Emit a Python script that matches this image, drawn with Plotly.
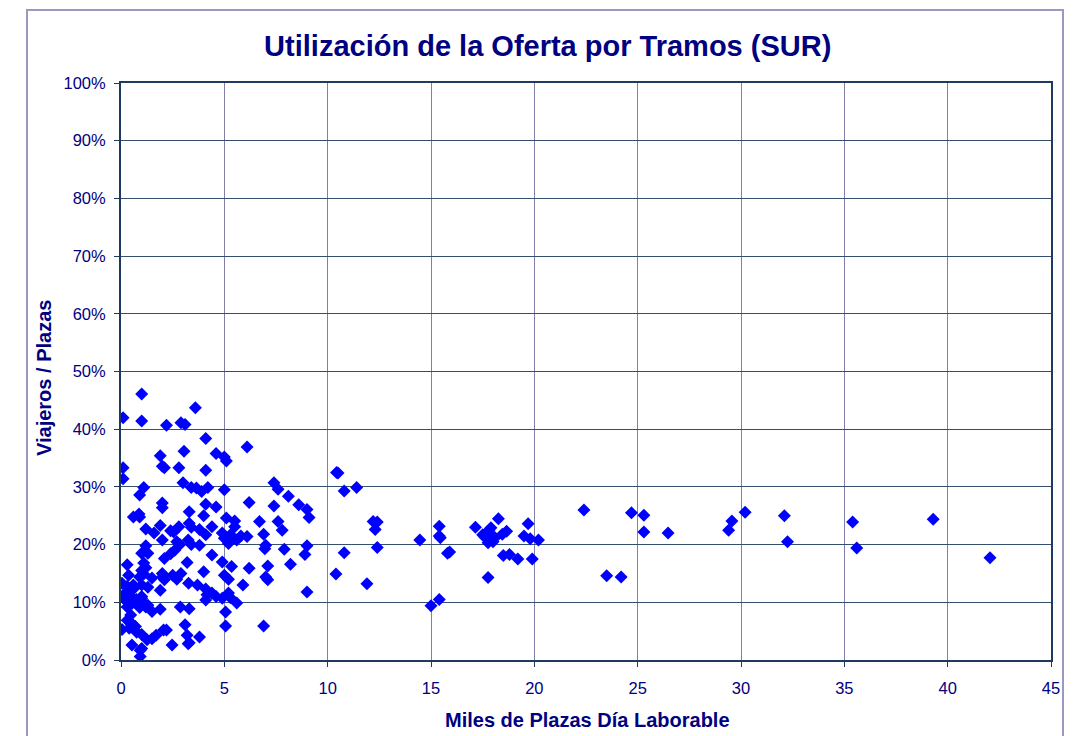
import plotly.graph_objects as go

# Miles de plazas día laborable (x) and Viajeros/Plazas in % (y)
x_left = [1.0,0.1,1.0,2.2,2.9,3.1,3.6,4.1,4.6,5.0,5.1,6.1,1.9,3.05,2.0,2.1,2.8,4.1,0.1,0.1,3.0,1.1,0.9,3.4,3.65,3.9,4.2,5.0,7.4,7.6,8.1,8.6,9.0,9.1,2.0,2.0,4.1,4.6,6.2,7.4,0.6,0.87,0.9,3.3,4.0,5.1,5.5,5.5,6.7,7.6,7.8,1.2,1.9,2.8,2.4,2.55,3.3,3.4,3.8,4.4,1.6,2.0,1.2,2.7,2.85,3.25,3.4,3.8,4.1,4.9,5.0,5.3,5.6,5.8,6.1,5.2,6.9,7.0,6.96,7.9,9.0,8.9,1.0,1.3,2.1,2.4,2.6,4.4,0.3,1.1,1.2,1.0,3.2,4.9,5.35,6.2,7.1,8.2]
y_left = [46.1,42.0,41.4,40.7,41.1,40.8,43.7,38.4,35.8,35.2,34.5,36.9,35.4,36.2,33.6,33.3,33.3,32.9,33.3,31.4,30.7,29.9,28.6,29.9,29.8,29.2,29.9,29.5,30.7,29.6,28.4,26.9,26.1,24.7,27.2,26.4,27.0,26.5,27.3,26.7,24.8,25.3,24.8,25.7,25.0,24.6,24.1,23.1,24.0,24.0,22.5,22.7,23.3,23.1,22.4,22.2,23.7,23.0,22.6,23.1,22.0,20.8,19.8,20.5,20.0,20.8,20.0,19.9,21.7,22.0,21.1,21.7,20.8,21.5,21.4,20.2,21.8,19.9,19.3,19.2,19.8,18.3,18.5,18.5,17.6,18.4,19.0,18.2,16.5,16.8,16.0,15.5,16.9,17.0,16.2,15.9,16.3,16.6]

x_low = [0.05,0.37,0.6,1.0,1.1,0.9,1.5,2.0,2.5,2.0,2.9,2.1,2.7,1.9,3.27,3.7,4.0,5.0,5.2,5.9,7.0,7.1,9.0,4.16,4.4,4.6,4.9,5.2,5.3,5.6,4.1,4.1,0.2,0.5,0.1,0.75,1.0,0.2,0.53,1.0,1.1,1.3,0.3,0.9,1.2,1.5,1.9,2.87,3.3,5.06,5.06,6.9,0.47,0.3,0.5,0.05,0.4,0.7,0.76,1.0,1.26,1.5,1.7,2.06,2.2,3.1,3.2,3.3,3.25,3.8,2.47,0.53,0.93,0.93,1.0,0.6,0.3,1.3]
y_low = [13.3,14.7,13.0,13.0,14.9,14.4,14.2,14.4,14.7,15.0,15.0,13.9,14.0,12.1,13.3,13.0,15.3,14.7,14.0,13.0,14.4,13.9,11.8,11.3,11.6,11.0,10.7,11.6,10.8,9.9,12.3,10.4,11.6,11.0,10.8,10.5,11.0,10.4,9.8,10.7,9.8,9.5,9.2,9.1,9.2,8.4,8.8,9.2,8.9,8.3,5.9,5.9,7.8,6.9,6.4,5.3,5.5,5.8,4.8,4.4,3.5,3.7,4.3,5.2,5.2,6.1,4.3,3.0,2.8,4.0,2.6,2.6,1.7,0.6,2.0,12.3,12.8,12.6]

x_right = [10.43,10.5,10.8,11.4,12.2,12.4,12.3,10.8,12.4,10.4,11.9,14.46,15.4,15.4,15.45,15.8,15.9,15.0,15.4,17.15,17.5,17.7,17.8,17.9,17.76,18.0,18.26,18.45,18.66,17.76,18.5,18.8,19.2,19.7,19.5,19.8,19.9,20.2,22.4,23.5,24.2,24.7,25.3,25.3,26.47,29.4,29.56,30.2,32.1,32.25,35.4,35.6,39.3,42.05,17.6,18.1,17.9]
y_right = [32.5,32.4,29.3,29.9,24.0,23.9,22.6,18.6,19.5,14.9,13.2,20.8,23.2,21.5,21.2,18.5,18.7,9.4,10.5,23.0,21.7,22.1,22.5,21.8,20.3,20.5,24.5,21.8,22.3,14.3,18.1,18.3,17.5,23.6,21.5,21.0,17.5,20.8,26.0,14.6,14.4,25.5,25.1,22.2,22.0,22.5,24.1,25.6,25.0,20.5,23.9,19.4,24.4,17.7,21.3,21.2,22.9]

x_vals = x_left + x_low + x_right
y_vals = [v / 100 for v in (y_left + y_low + y_right)]

x_ticks = [0, 5, 10, 15, 20, 25, 30, 35, 40, 45]
x_ticktext = ["0", "5", "10", "15", "20", "25", "30", "35", "40", "45"]
y_ticks = [0, 0.1, 0.2, 0.3, 0.4, 0.5, 0.6, 0.7, 0.8, 0.9, 1.0]
y_ticktext = ["0%", "10%", "20%", "30%", "40%", "50%", "60%", "70%", "80%", "90%", "100%"]

NAVY = "#000080"
FONT = "Liberation Sans, Arial, sans-serif"

fig = go.Figure(go.Scatter(
    x=x_vals, y=y_vals, mode="markers",
    marker=dict(symbol="diamond", size=10, color="#0000FF", line=dict(width=0)),
    hoverinfo="x+y",
))

fig.update_layout(
    width=1073, height=728,
    margin=dict(l=113, r=30, t=75, b=76),
    paper_bgcolor="white", plot_bgcolor="white",
    showlegend=False,
    font=dict(family=FONT, color=NAVY),
    title=dict(
        text="<b>Utilización de la Oferta por Tramos (SUR)</b>",
        x=0.503, xanchor="center", y=0.948, yanchor="middle", yref="container",
        font=dict(family=FONT, size=29, color=NAVY),
    ),
    xaxis=dict(
        range=[0, 45], tickvals=x_ticks, ticktext=x_ticktext,
        showgrid=True, gridcolor="#8080a8", gridwidth=1,
        showline=True, linecolor="#1f3a5f", linewidth=2, mirror=True,
        ticks="outside", ticklen=5, tickcolor="#1f3a5f",
        ticklabelstandoff=7,
        tickfont=dict(size=16.5, color=NAVY, family=FONT),
        zeroline=False, fixedrange=True,
    ),
    yaxis=dict(
        range=[0, 1], tickvals=y_ticks, ticktext=y_ticktext,
        showgrid=True, gridcolor="#34506e", gridwidth=1,
        showline=True, linecolor="#1f3a5f", linewidth=2, mirror=True,
        ticks="outside", ticklen=5, tickcolor="#1f3a5f",
        ticklabelstandoff=5,
        tickfont=dict(size=16.5, color=NAVY, family=FONT),
        zeroline=False, fixedrange=True,
    ),
    annotations=[
        dict(text="<b>Miles de Plazas Día Laborable</b>", xref="paper", yref="paper",
             x=(587 - 121) / 930, y=(660 - 720) / 577, xanchor="center", yanchor="middle",
             showarrow=False, font=dict(size=20, color=NAVY, family=FONT)),
        dict(text="<b>Viajeros / Plazas</b>", xref="paper", yref="paper",
             x=(44 - 121) / 930, y=(660 - 378) / 577, xanchor="center", yanchor="middle",
             textangle=-90, showarrow=False, font=dict(size=20, color=NAVY, family=FONT)),
    ],
    shapes=[
        dict(type="rect", xref="paper", yref="paper",
             x0=(27 - 121) / 930, x1=(1063 - 121) / 930,
             y0=(660 - 760) / 577, y1=(660 - 10) / 577,
             line=dict(color="#9a9ac0", width=2), fillcolor="rgba(0,0,0,0)", layer="below"),
    ],
)

fig.write_html("out.html")
